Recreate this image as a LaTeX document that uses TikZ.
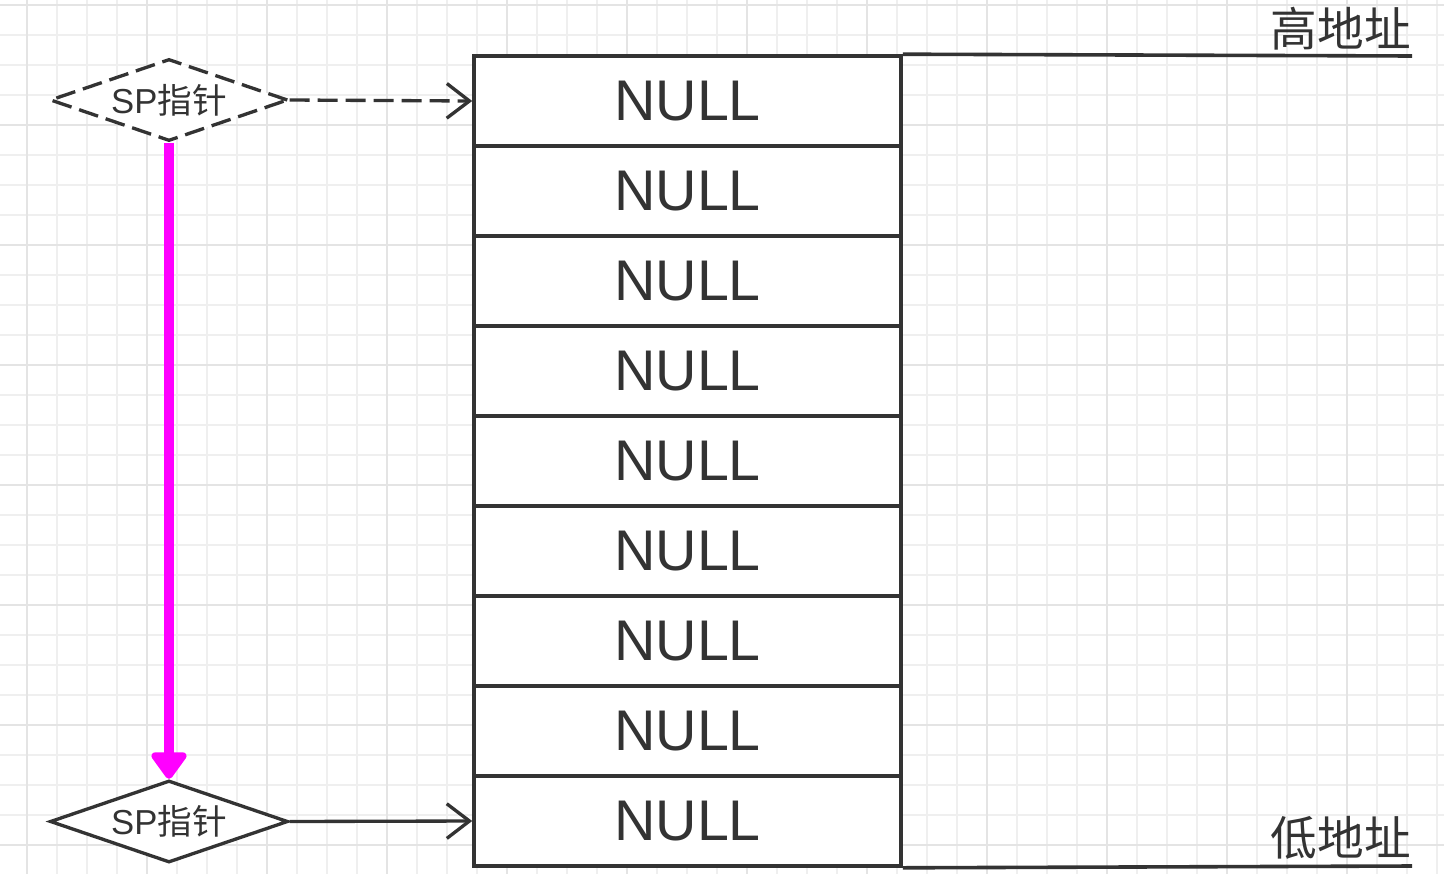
\documentclass[tikz,border=0pt]{standalone}
\usepackage{fontspec}
\setmainfont{Liberation Sans}
\newfontfamily\cjk{Noto Sans CJK SC}
\usetikzlibrary{arrows.meta,shapes.geometric}
\definecolor{ink}{HTML}{333333}
\definecolor{gridminor}{HTML}{EFEFEF}
\definecolor{gridmajor}{HTML}{E4E4E4}
\definecolor{mag}{HTML}{FF00FF}
\tikzset{
  cell/.style={draw=ink, line width=2.7pt, minimum width=320.25pt, minimum height=67.5pt, inner sep=0pt, font=\fontsize{43}{43}\selectfont, text=ink},
  ptr/.style={diamond, aspect=2.9, draw=ink, line width=2.5pt, minimum width=178.5pt, minimum height=61.5pt, inner sep=0pt, fill=white, font=\fontsize{26}{26}\selectfont, text=ink},
  conn/.style={draw=ink, line width=2.5pt, -{Straight Barb[length=17pt,width=26pt,line width=2.5pt]}},
  dashy/.style={dash pattern=on 15pt off 6pt},
  addr/.style={text=ink, font=\cjk\fontsize{35}{35}\selectfont, anchor=south east, inner sep=0pt}
}
\begin{document}
\begin{tikzpicture}[x=0.75pt,y=-0.75pt]
\useasboundingbox (0,0) rectangle (1444,874);
\fill[white] (0,0) rectangle (1444,874);
% grid
\foreach \x in {-3,27,...,1444} \draw[gridminor, line width=1pt] (\x,0) -- (\x,874);
\foreach \y in {5,35,...,874} \draw[gridminor, line width=1pt] (0,\y) -- (1444,\y);
\foreach \x in {27,147,...,1444} \draw[gridmajor, line width=1.2pt] (\x,0) -- (\x,874);
\foreach \y in {5,125,...,874} \draw[gridmajor, line width=1.2pt] (0,\y) -- (1444,\y);
% cells
\foreach \i in {1,...,9} {
  \node[cell, fill=white] (c\i) at (687.5, {56+90*(\i-1)+45}) {NULL};
}
% address lines
\coordinate (hiend) at (1412,56);
\coordinate (loend) at (1412,866);
\draw[ink, line width=2.7pt] (c1.north east) -- (hiend);
\draw[ink, line width=2.7pt] (c9.south east) -- (loend);
\node[addr] (hi) at (1411,50) {高地址};
\node[addr] (lo) at (1411,860) {低地址};
% pointers
\node[ptr, dashy] (sp1) at (169,100) {SP{\cjk 指针}};
\node[ptr] (sp2) at (169,821.5) {SP{\cjk 指针}};
\draw[conn, dashy] (sp1.east) -- (c1.west);
\draw[conn] (sp2.east) -- (c9.west);
\draw[mag, line width=7.5pt, -{Triangle[length=22pt,width=30pt,round]}] (sp1.south) -- (sp2.north);
\end{tikzpicture}
\end{document}
